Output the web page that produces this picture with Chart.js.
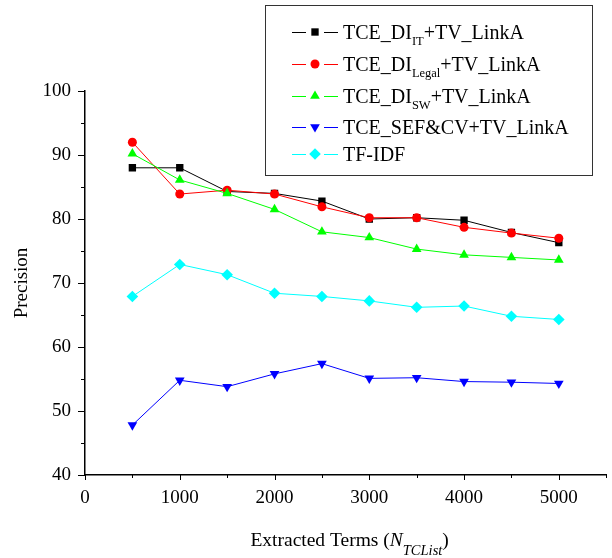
<!DOCTYPE html>
<html>
<head>
<meta charset="utf-8">
<script src="https://cdn.jsdelivr.net/npm/chart.js@4/dist/chart.umd.min.js"></script>
<style>
  html, body { margin: 0; padding: 0; background: #fff; }
  #wrap { width: 612px; height: 558px; }
</style>
</head>
<body>
<div id="wrap"><canvas id="chart" width="612" height="558"></canvas></div>
<script>
// data
const terms = [500, 1000, 1500, 2000, 2500, 3000, 3500, 4000, 4500, 5000]
const diIT = [88, 88, 84.3, 84, 82.8, 80, 80.2, 79.8, 77.9, 76.3]
const diLegal = [92, 83.9, 84.5, 83.9, 81.9, 80.2, 80.2, 78.7, 77.8, 77]
const diSW = [90.2, 86.1, 84, 81.5, 78, 77.1, 75.3, 74.4, 74, 73.6]
const sefCV = [47.8, 54.8, 53.8, 55.8, 57.4, 55.1, 55.2, 54.6, 54.5, 54.3]
const tfidf = [67.9, 72.9, 71.3, 68.4, 67.9, 67.2, 66.2, 66.4, 64.8, 64.3]

const legendNames = [
    ['TCE_DI', 'IT', '+TV_LinkA'],
    ['TCE_DI', 'Legal', '+TV_LinkA'],
    ['TCE_DI', 'SW', '+TV_LinkA'],
    ['TCE_SEF&CV+TV_LinkA', '', ''],
    ['TF-IDF', '', '']
]

const serif = '"Liberation Serif", "Times New Roman", serif'

function pts(vals) {
    return terms.map((t, i) => ({x: t, y: vals[i]}))
}

function series(vals, color, style, radius, rotation, order) {
    return {
        data: pts(vals),
        borderColor: color,
        backgroundColor: color,
        borderWidth: 1,
        pointStyle: style,
        pointRadius: radius,
        pointRotation: rotation,
        pointBorderWidth: 0,
        pointBackgroundColor: color,
        tension: 0,
        order: order
    }
}

const datasets = [
    series(diIT, '#000000', 'rect', 5.2, 0, 5),
    series(diLegal, '#ff0000', 'circle', 4.5, 0, 4),
    series(diSW, '#00ff00', 'triangle', 5.6, 0, 3),
    series(sefCV, '#0000ff', 'triangle', 5.6, 180, 2),
    series(tfidf, '#00ffff', 'rectRot', 5.8, 0, 1)
]

function drawMarker(ctx, ds, x, y) {
    ctx.save()
    ctx.fillStyle = ds.borderColor
    ctx.beginPath()
    let r = ds.pointRadius
    if (ds.pointStyle == 'rect') {
        let h = r * Math.SQRT1_2
        ctx.rect(x - h, y - h, 2 * h, 2 * h)
    } else if (ds.pointStyle == 'circle') {
        ctx.arc(x, y, r, 0, Math.PI * 2)
    } else if (ds.pointStyle == 'triangle') {
        let s = ds.pointRotation == 180 ? -1 : 1
        ctx.moveTo(x, y - s * r)
        ctx.lineTo(x + r * 0.866, y + s * r * 0.5)
        ctx.lineTo(x - r * 0.866, y + s * r * 0.5)
        ctx.closePath()
    } else {
        ctx.moveTo(x, y - r)
        ctx.lineTo(x + r, y)
        ctx.lineTo(x, y + r)
        ctx.lineTo(x - r, y)
        ctx.closePath()
    }
    ctx.fill()
    ctx.restore()
}

const extras = {
    id: 'extras',
    afterDraw(chart) {
        const ctx = chart.ctx
        const xs = chart.scales.x
        const ys = chart.scales.y
        const area = chart.chartArea
        ctx.save()
        ctx.strokeStyle = '#000'
        ctx.lineWidth = 1
        // tick marks, longer on labelled values
        for (let v = 0; v <= 5500; v += 500) {
            let px = Math.round(xs.getPixelForValue(v)) + 0.5
            let len = v % 1000 == 0 ? 5 : 3
            ctx.beginPath()
            ctx.moveTo(px, area.bottom)
            ctx.lineTo(px, area.bottom + len)
            ctx.stroke()
        }
        for (let v = 40; v <= 100; v += 5) {
            let py = Math.round(ys.getPixelForValue(v)) + 0.5
            let len = v % 10 == 0 ? 7 : 4
            ctx.beginPath()
            ctx.moveTo(area.left, py)
            ctx.lineTo(area.left - len, py)
            ctx.stroke()
        }

        // x axis title with italic subscript
        ctx.fillStyle = '#000'
        ctx.textBaseline = 'alphabetic'
        const main = '19.5px ' + serif
        const ital = 'italic 19.5px ' + serif
        const sub = 'italic 14.5px ' + serif
        const parts = [
            ['Extracted Terms (', main, 0],
            ['N', ital, 0],
            ['TCList', sub, 9],
            [')', main, 0]
        ]
        let total = 0
        parts.forEach((p) => { ctx.font = p[1]; total += ctx.measureText(p[0]).width })
        let tx = (area.left + area.right) / 2 + 4 - total / 2
        parts.forEach((p) => {
            ctx.font = p[1]
            ctx.fillText(p[0], tx, 546 + p[2])
            tx += ctx.measureText(p[0]).width
        })

        // legend box
        ctx.strokeStyle = '#333'
        ctx.lineWidth = 1
        ctx.strokeRect(265.5, 5.5, 327, 170)
        const rowsY = [32, 64, 96, 127, 154]
        chart.data.datasets.forEach((ds, i) => {
            let y = rowsY[i]
            ctx.strokeStyle = ds.borderColor
            ctx.lineWidth = 1
            ctx.beginPath()
            ctx.moveTo(292, y + 0.5)
            ctx.lineTo(306, y + 0.5)
            ctx.moveTo(324, y + 0.5)
            ctx.lineTo(338, y + 0.5)
            ctx.stroke()
            drawMarker(ctx, ds, 315, y)
            let name = legendNames[i]
            let lx = 343
            let base = y + 7
            ctx.fillStyle = '#000'
            ctx.font = '20px ' + serif
            ctx.fillText(name[0], lx, base)
            lx += ctx.measureText(name[0]).width
            if (name[1]) {
                ctx.font = '12.5px ' + serif
                ctx.fillText(name[1], lx, base + 6)
                lx += ctx.measureText(name[1]).width
            }
            if (name[2]) {
                ctx.font = '20px ' + serif
                ctx.fillText(name[2], lx, base)
            }
        })
        ctx.restore()
    }
}

new Chart(document.getElementById('chart'), {
    type: 'line',
    data: { datasets: datasets },
    options: {
        responsive: false,
        animation: false,
        devicePixelRatio: 1,
        layout: { padding: { top: 91, right: 4, left: 0, bottom: 0 } },
        plugins: {
            legend: { display: false },
            tooltip: { enabled: false }
        },
        scales: {
            x: {
                type: 'linear',
                min: 0,
                max: 5500,
                afterFit: (s) => {
                    s.height = 83
                    s.paddingRight = 0
                    s.paddingLeft = 0
                },
                grid: { display: false, drawTicks: false },
                border: { display: true, color: '#000', width: 1.5 },
                ticks: {
                    stepSize: 500,
                    autoSkip: false,
                    maxRotation: 0,
                    padding: 12,
                    color: '#000',
                    font: { family: serif, size: 19 },
                    callback: (v) => v % 1000 == 0 ? String(v) : ''
                }
            },
            y: {
                min: 40,
                max: 100,
                afterFit: (s) => { s.width = 85 },
                grid: { display: false, drawTicks: false },
                border: { display: true, color: '#000', width: 1.5 },
                title: {
                    display: true,
                    text: 'Precision',
                    color: '#000',
                    font: { family: serif, size: 19 },
                    padding: { top: 11, bottom: 0 }
                },
                ticks: {
                    stepSize: 5,
                    autoSkip: false,
                    padding: 14,
                    color: '#000',
                    font: { family: serif, size: 19 },
                    callback: (v) => v % 10 == 0 ? String(v) : ''
                }
            }
        }
    },
    plugins: [extras]
})
</script>
</body>
</html>
